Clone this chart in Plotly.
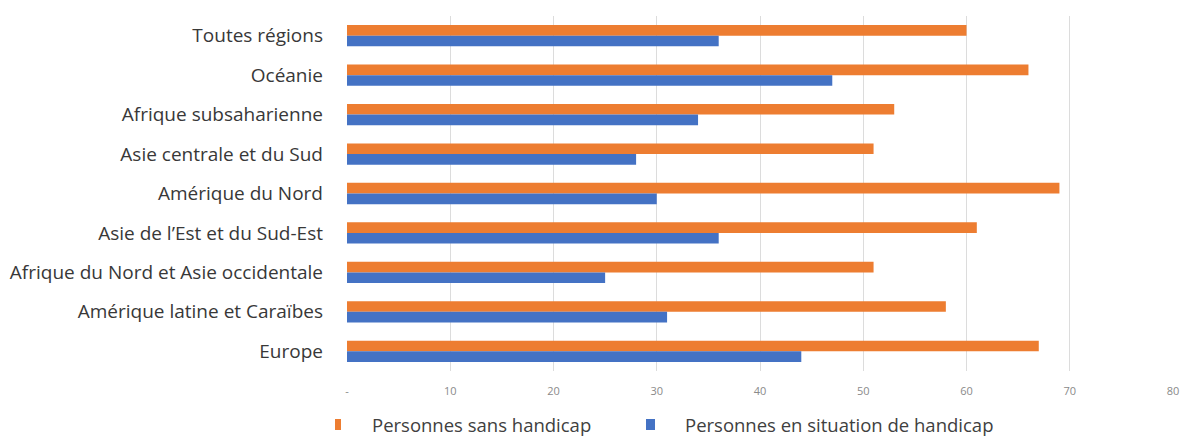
import plotly.graph_objects as go

# Regions, listed top to bottom
regions = [
    "Toutes régions",
    "Océanie",
    "Afrique subsaharienne",
    "Asie centrale et du Sud",
    "Amérique du Nord",
    "Asie de l’Est et du Sud-Est",
    "Afrique du Nord et Asie occidentale",
    "Amérique latine et Caraïbes",
    "Europe",
]
sans_handicap = [60, 66, 53, 51, 69, 61, 51, 58, 67]
avec_handicap = [36, 47, 34, 28, 30, 36, 25, 31, 44]

x_ticks = [0, 10, 20, 30, 40, 50, 60, 70, 80]
x_tick_text = ["-", "10", "20", "30", "40", "50", "60", "70", "80"]

series_names = ["Personnes sans handicap", "Personnes en situation de handicap"]

ORANGE = "#ED7D31"
BLUE = "#4472C4"
FONT = "Open Sans, Noto Sans, sans-serif"

W, H = 1182, 436
ML, MR, MT, MB = 347, 9, 16, 65
PW, PH = W - ML - MR, H - MT - MB


def px_x(px):
    """Pixel x to paper x."""
    return (px - ML) / PW


def px_y(py):
    """Pixel y (from top) to paper y."""
    return (H - MB - py) / PH


fig = go.Figure()
fig.add_trace(go.Bar(
    y=regions, x=sans_handicap, orientation="h",
    marker=dict(color=ORANGE, line=dict(width=0)),
    name=series_names[0],
))
fig.add_trace(go.Bar(
    y=regions, x=avec_handicap, orientation="h",
    marker=dict(color=BLUE, line=dict(width=0)),
    name=series_names[1],
))

# Legend drawn below the plot: small colour keys and labels
legend_items = [
    (series_names[0], ORANGE, 335, 341, 370),
    (series_names[1], BLUE, 646, 655, 683),
]
shapes, annotations = [], []
for name, color, k0, k1, tx in legend_items:
    shapes.append(dict(
        type="rect", xref="paper", yref="paper",
        x0=px_x(k0), x1=px_x(k1), y0=px_y(430), y1=px_y(419),
        fillcolor=color, line=dict(width=0), layer="above",
    ))
    annotations.append(dict(
        text=name, xref="paper", yref="paper",
        x=px_x(tx), y=px_y(424), xanchor="left", yanchor="middle",
        showarrow=False, font=dict(size=18.5, color="#404040", family=FONT),
    ))

fig.update_layout(
    width=W, height=H,
    margin=dict(l=ML, r=MR, t=MT, b=MB),
    paper_bgcolor="white", plot_bgcolor="white",
    barmode="group", bargap=0.46, bargroupgap=0,
    showlegend=False,
    font=dict(family=FONT, color="#404040"),
    shapes=shapes,
    annotations=annotations,
    xaxis=dict(
        range=[0, 80], tickvals=x_ticks, ticktext=x_tick_text,
        showgrid=True, gridcolor="#DCDCDC", gridwidth=1,
        zeroline=False, showline=False, ticks="",
        tickfont=dict(size=11, color="#8a8a8a", family=FONT),
        ticklabelstandoff=12, fixedrange=True, automargin=False,
    ),
    yaxis=dict(
        autorange="reversed", showgrid=False, zeroline=False,
        showline=False, ticks="",
        tickfont=dict(size=19, color="#383838", family=FONT),
        ticklabelstandoff=23, automargin=False,
    ),
)

fig.write_html("out.html")
